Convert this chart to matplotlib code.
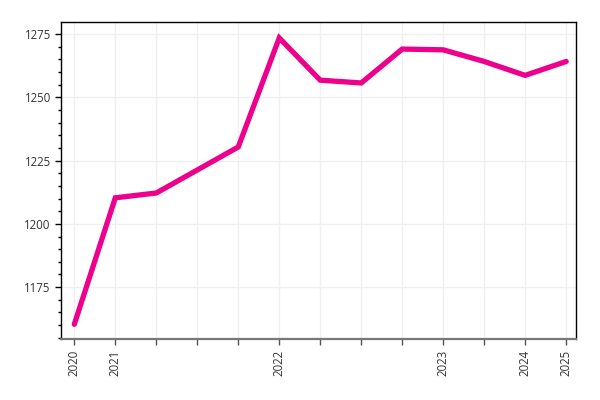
import matplotlib.pyplot as plt

# Dane
labels = ['2020', '2021', '', '', '', '2022', '', '', '', '2023', '', '2024', '2025']
values = [1160.3, 1210.3, 1212.2, 1221.3, 1230.4, 1273.5, 1256.8, 1255.7,
          1269.1, 1268.8, 1264.2, 1258.7, 1264.2]
y_ticks = [1175, 1200, 1225, 1250, 1275]

plt.rcParams['font.family'] = ['Open Sans', 'DejaVu Sans']

fig = plt.figure(figsize=(6, 4), dpi=100)
ax = fig.add_axes([0.102, 0.152, 0.858, 0.793])

x = list(range(len(values)))
ax.plot(x, values, color='#ec008c', linewidth=3.8, solid_capstyle='round',
        solid_joinstyle='miter', zorder=3)

ax.set_xlim(-0.32, 12.24)
ax.set_ylim(1154.4, 1279.8)
ax.set_xticks(x)
ax.set_xticklabels(labels, rotation=90, fontsize=8.3, color='#333333')
ax.set_yticks(y_ticks)
ax.set_yticks(range(1155, 1280, 5), minor=True)
ax.tick_params(axis='y', labelsize=8.3, labelcolor='#333333', length=4, width=1)
ax.tick_params(axis='y', which='minor', length=2.5, width=1)
ax.tick_params(axis='x', length=4, width=1, color='#555555')

ax.grid(True, color='#f0f0f0', linewidth=1)
ax.set_axisbelow(True)
ax.spines['bottom'].set_color('#777777')
ax.spines['bottom'].set_linewidth(1.6)
for s in ['left', 'top', 'right']:
    ax.spines[s].set_linewidth(1)

fig.savefig('out.png', dpi=100)
